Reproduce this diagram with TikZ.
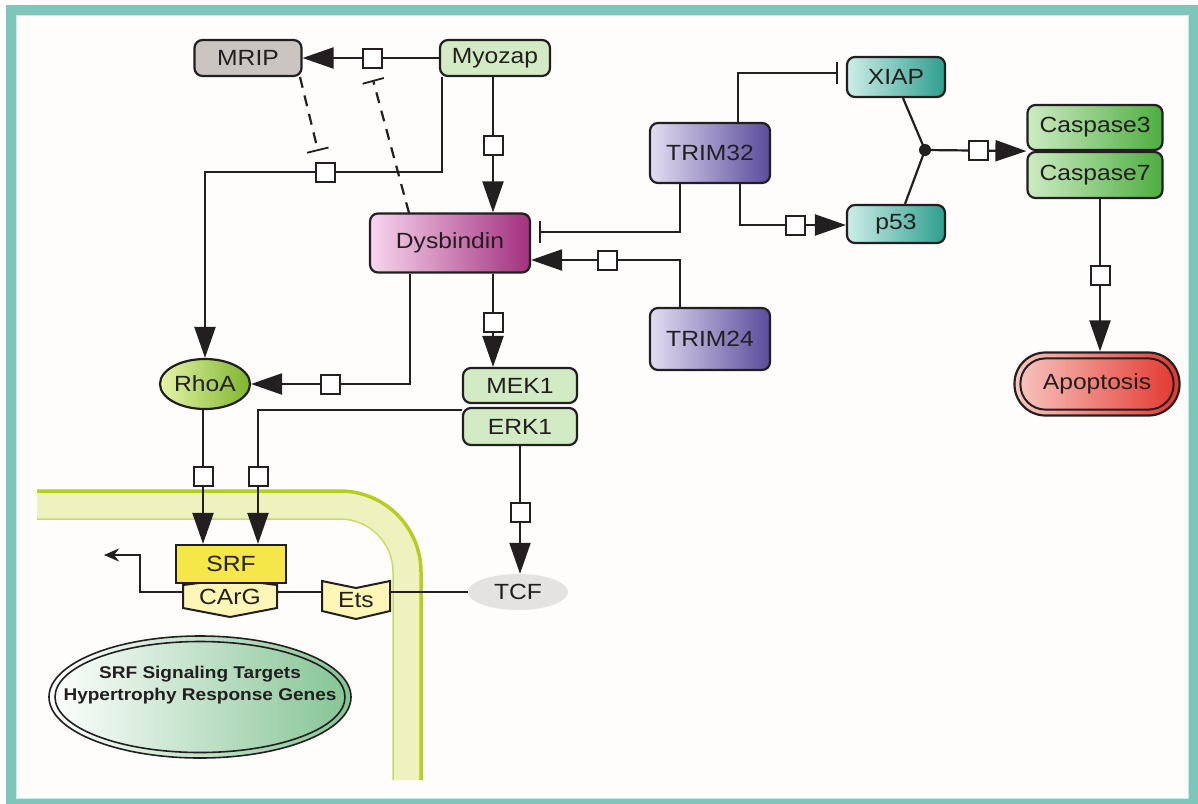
\documentclass[tikz,border=0pt]{standalone}
\usepackage{fontspec}
\setmainfont{Liberation Sans}[FakeStretch=1.12]
\usetikzlibrary{arrows.meta,shapes.geometric}
\definecolor{framecol}{HTML}{7EC6BA}
\definecolor{framelight}{HTML}{C9ECE6}
\definecolor{bg}{HTML}{FEFDFB}
\definecolor{txt}{HTML}{231F20}
\definecolor{bandfill}{HTML}{EEF2BE}
\definecolor{bandedge}{HTML}{B7CD22}
\definecolor{bandinner}{HTML}{CBD96A}
\definecolor{grayb}{HTML}{CAC5C1}
\definecolor{lgreen}{HTML}{D2EBC4}
\definecolor{magL}{HTML}{F8D6EE}
\definecolor{magR}{HTML}{A3307F}
\definecolor{purL}{HTML}{E2DDF2}
\definecolor{purR}{HTML}{5A4C9C}
\definecolor{teaL}{HTML}{CDEEE8}
\definecolor{teaR}{HTML}{2E9E8E}
\definecolor{grnL}{HTML}{CDEBC3}
\definecolor{grnR}{HTML}{4DAE40}
\definecolor{redL}{HTML}{F8C8C2}
\definecolor{redR}{HTML}{E2362E}
\definecolor{rhoL}{HTML}{E6F4A8}
\definecolor{rhoR}{HTML}{7DB52C}
\definecolor{srfy}{HTML}{F5E64A}
\definecolor{paley}{HTML}{FDF6B6}
\definecolor{tcfg}{HTML}{E5E3E1}
\definecolor{tgtR}{HTML}{84C494}
\tikzset{
  lbl/.style={font=\fontsize{22}{26}\selectfont, text=txt},
  box/.style={lbl, draw=txt, line width=2.2pt, rounded corners=8pt, inner sep=0pt},
  sq/.style={draw=txt, fill=white, minimum size=19pt, inner sep=0pt, line width=2pt},
  con/.style={draw=txt, line width=2.2pt},
  act/.style={con, -{Triangle[length=31pt,width=21pt]}},
  inh/.style={con, shorten >=8pt, -{Bar[width=22pt,line width=1.8pt]}},
  dsh/.style={con, dash pattern=on 11pt off 8pt, -{Bar[width=22pt,line width=1.8pt]}},
}
\begin{document}
\begin{tikzpicture}[x=1pt,y=-1pt]
\useasboundingbox (0,0) rectangle (1198,803);
\fill[white] (0,0) rectangle (1198,803);
\fill[bg] (16,15) rectangle (1189,799);
\draw[framecol, line width=10pt] (11,10) rectangle (1194,804);
\draw[framelight, line width=1.5pt] (16.5,15.5) rectangle (1188.5,798.5);

% membrane band
\fill[bandfill] (37,491) [rounded corners=81pt] -- (421,491) [sharp corners] -- (421,780) -- (393,780) [rounded corners=53pt] -- (393,519) [sharp corners] -- (37,519) -- cycle;
\draw[bandedge, line width=3.5pt] (37,491) [rounded corners=81pt] -- (421,491) [sharp corners] -- (421,780);
\draw[bandinner, line width=1.5pt] (37,519) [rounded corners=53pt] -- (393,519) [sharp corners] -- (393,780);

% nodes
\node[box, fill=grayb, minimum width=107pt, minimum height=36pt] (mrip) at (248,58) {MRIP};
\node[box, fill=lgreen, minimum width=110pt, minimum height=36pt] (myozap) at (495,58) {Myozap};
\node[box, left color=magL, right color=magR, minimum width=160pt, minimum height=59pt] (dysb) at (450,243) {Dysbindin};
\node[box, left color=purL, right color=purR, minimum width=120pt, minimum height=60pt] (trim32) at (710,153) {TRIM32};
\node[box, left color=purL, right color=purR, minimum width=120pt, minimum height=62pt] (trim24) at (710,339) {TRIM24};
\node[box, left color=teaL, right color=teaR, minimum width=98pt, minimum height=40pt] (xiap) at (896,77) {XIAP};
\node[box, left color=teaL, right color=teaR, minimum width=98pt, minimum height=38pt] (p53) at (896,224) {p53};
\node[box, left color=grnL, right color=grnR, minimum width=135pt, minimum height=45pt] (casp3) at (1095,127.5) {Caspase3};
\node[box, left color=grnL, right color=grnR, minimum width=135pt, minimum height=46pt] (casp7) at (1095,175) {Caspase7};
\node[box, left color=redL, right color=redR, rounded corners=31pt, minimum width=165pt, minimum height=63pt] (apo) at (1097,384) {Apoptosis};
\draw[txt, line width=2pt, rounded corners=25pt] ([shift={(7,7)}]apo.north west) rectangle ([shift={(-7,-7)}]apo.south east);
\node[lbl, ellipse, draw=txt, line width=2.2pt, left color=rhoL, right color=rhoR, minimum width=90pt, minimum height=50pt, inner sep=0pt] (rhoa) at (205,384) {RhoA};
\node[box, fill=lgreen, minimum width=114pt, minimum height=35pt] (mek1) at (520,385.5) {MEK1};
\node[box, fill=lgreen, minimum width=114pt, minimum height=37pt] (erk1) at (520,426.5) {ERK1};

% CArG and Ets elements
\draw[txt, line width=2pt, fill=paley] (183,585) -- (230,579) -- (277,585) -- (277,608) -- (230,617) -- (183,608) -- cycle;
\node[lbl, inner sep=0pt, minimum width=94pt, minimum height=30pt] (carg) at (230,597) {CArG};
\draw[txt, line width=2pt, fill=paley] (322,581) -- (356,588) -- (390,581) -- (390,611) -- (356,619) -- (322,611) -- cycle;
\node[lbl, inner sep=0pt, minimum width=68pt, minimum height=30pt] (ets) at (356,600) {Ets};
\node[lbl, draw=txt, line width=2.2pt, fill=srfy, minimum width=110pt, minimum height=38pt, inner sep=0pt] (srf) at (231,564) {SRF};
\node[lbl, ellipse, fill=tcfg, minimum width=100pt, minimum height=36pt, inner sep=0pt] (tcf) at (518,592) {TCF};

% targets ellipse
\path[draw=txt, line width=1.6pt, left color=white, right color=tgtR] (200,697) ellipse [x radius=151, y radius=61];
\draw[txt, line width=1.6pt] (200,697) ellipse [x radius=145, y radius=55.5];
\node[align=center, font=\fontsize{17}{22}\selectfont\bfseries, text=txt] (tgt) at (200,685) {SRF Signaling Targets\\Hypertrophy Response Genes};

% coordinates
\coordinate (mripbar) at (318,151);
\coordinate (dysbbar) at (373,80);
\coordinate (tss) at (104,555);
\coordinate (hub) at (925,150);

% connectors
\draw[act] (myozap) -- (mrip);
\draw[act] ([xshift=3pt]myozap.south west) -- ([xshift=3pt]myozap.south west |- 0,172) -| (rhoa.north);
\draw[act] (myozap.south -| 493,0) -- (dysb.north -| 493,0);
\draw[dsh] (300,77) -- (mripbar);
\draw[dsh] (409,213) -- (dysbbar);
\draw[act] (dysb.south -| 410,0) |- (rhoa.east);
\draw[act] (dysb.south -| 493,0) -- (mek1.north -| 493,0);
\draw[inh] (trim32.south -| 680,0) |- (dysb.east |- 0,232);
\draw[act] (trim24.north -| 680,0) |- (dysb.east |- 0,260);
\draw[inh] (trim32.north -| 738,0) |- (xiap.west |- 0,73);
\draw[act] (trim32.south -| 740,0) |- (p53.west |- 0,225);
\draw[con] (xiap.south -| 903,0) -- (hub);
\draw[con] (p53.north -| 905,0) -- (hub);
\fill[txt] (hub) circle (6pt);
\draw[act] (hub) -- (casp3.south west);
\draw[act] (casp7.south -| 1100,0) -- (apo.north -| 1100,0);
\draw[act] (rhoa.south -| 203,0) -- (srf.north -| 203,0);
\draw[act] ([yshift=-3pt]erk1.north west) -| (srf.north -| 258,0);
\draw[act] (erk1.south) -- (tcf.north -| 520,0);
\draw[con] (carg.east |- 0,592) -- (ets.west |- 0,592);
\draw[con] (ets.east |- 0,592) -- (tcf.west);
\draw[con, -{Stealth[length=15pt,width=13pt]}] (carg.west |- 0,592) -| (140,555) -- (tss);

% squares
\node[sq] at (372,58) {};
\node[sq] at (325,172) {};
\node[sq] at (493,145) {};
\node[sq] at (330,384) {};
\node[sq] at (493,322) {};
\node[sq] at (607,260) {};
\node[sq] at (795,225) {};
\node[sq] at (978,150) {};
\node[sq] at (1100,275) {};
\node[sq] at (203,476) {};
\node[sq] at (258,476) {};
\node[sq] at (520,512) {};
\end{tikzpicture}
\end{document}
